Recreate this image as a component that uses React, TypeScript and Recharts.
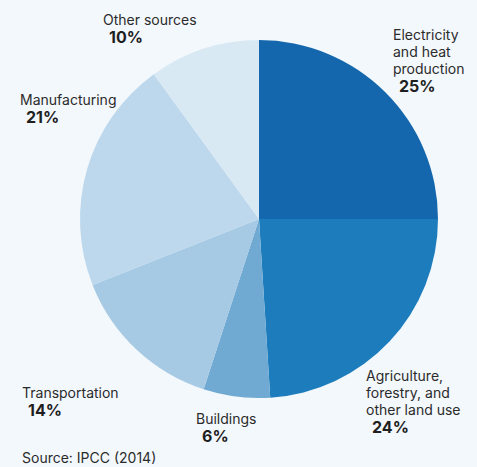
import { PieChart, Pie, Cell } from "recharts";

const SECTORS = [
  "Electricity and heat production",
  "Agriculture, forestry, and other land use",
  "Buildings",
  "Transportation",
  "Manufacturing",
  "Other sources",
];
const SHARES = [25, 24, 6, 14, 21, 10];
const LABEL_LINES = [
  ["Electricity", "and heat", "production"],
  ["Agriculture,", "forestry, and", "other land use"],
  ["Buildings"],
  ["Transportation"],
  ["Manufacturing"],
  ["Other sources"],
];
const COLORS = ["#1467ad", "#1d7dbc", "#70a9d1", "#a6c9e4", "#bdd8ed", "#d9e9f4"];

// where each label block starts (first baseline), in page pixels
const LABEL_POS = [
  { x: 393, y: 40 },
  { x: 366, y: 381 },
  { x: 196, y: 424 },
  { x: 22, y: 398 },
  { x: 20, y: 105 },
  { x: 103, y: 25 },
];

const chartData = SECTORS.map((name, i) => ({ name, value: SHARES[i] }));

const renderLabel = (props: any) => {
  const { index } = props;
  const pos = LABEL_POS[index];
  const lines = LABEL_LINES[index];
  return (
    <g key={`lbl-${index}`}>
      {lines.map((line, j) => (
        <text
          key={j}
          x={pos.x}
          y={pos.y + j * 17}
          fill="#2b2b2b"
          fontSize={14}
          fontFamily="Inter, sans-serif"
        >
          {line}
        </text>
      ))}
      <text
        x={pos.x + 6}
        y={pos.y + lines.length * 17 + 1}
        fill="#1f1f1f"
        fontSize={16}
        fontWeight={700}
        fontFamily="Inter, sans-serif"
      >
        {`${SHARES[index]}%`}
      </text>
    </g>
  );
};

export default function App() {
  return (
    <div style={{ position: "absolute", left: 0, top: 0, width: 477, height: 467, background: "#f3f8fc" }}>
      <PieChart width={477} height={467} margin={{ top: 0, right: 0, bottom: 0, left: 0 }}>
        <Pie
          data={chartData}
          dataKey="value"
          nameKey="name"
          cx={259}
          cy={219}
          outerRadius={179}
          startAngle={90}
          endAngle={-270}
          stroke="none"
          label={renderLabel}
          labelLine={false}
          isAnimationActive={false}
        >
          {chartData.map((d, i) => (
            <Cell key={d.name} fill={COLORS[i]} />
          ))}
        </Pie>
      </PieChart>
      <div
        style={{
          position: "absolute",
          left: 22,
          top: 449,
          fontFamily: "Inter, sans-serif",
          fontSize: 14,
          color: "#2b2b2b",
          lineHeight: "17px",
        }}
      >
        Source: IPCC (2014)
      </div>
    </div>
  );
}
